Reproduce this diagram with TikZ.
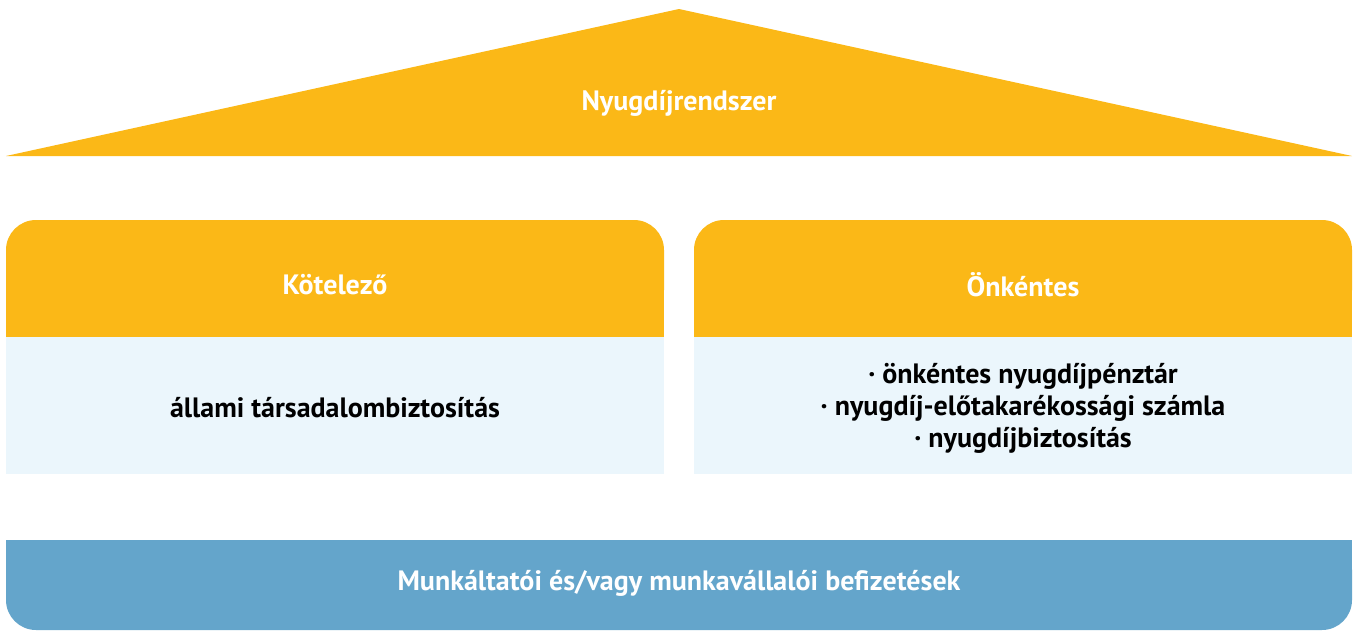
\documentclass[tikz,border=0pt]{standalone}
\usepackage{fontspec}
\setmainfont{PT Sans}
\definecolor{amber}{HTML}{FBB817}
\definecolor{paleblue}{HTML}{EBF6FC}
\definecolor{steelblue}{HTML}{64A5CB}
\begin{document}
\begin{tikzpicture}[x=1pt,y=-1pt,
  lbl/.style={font=\fontsize{28}{32}\selectfont\bfseries, align=center, inner sep=0pt},
  whitelbl/.style={lbl, text=white},
  blacklbl/.style={lbl, text=black}]
\useasboundingbox (0,0) rectangle (1358,630);
% roof
\fill[amber] (6,156) -- (679,9) -- (1352,156) -- cycle;
% left column
\fill[amber, rounded corners=30pt] (6,220) rectangle (664,320);
\fill[amber] (6,270) rectangle (664,337);
\fill[paleblue] (6,337) rectangle (664,474);
% right column
\fill[amber, rounded corners=30pt] (694,220) rectangle (1352,320);
\fill[amber] (694,270) rectangle (1352,337);
\fill[paleblue] (694,337) rectangle (1352,474);
% base
\fill[steelblue, rounded corners=30pt] (6,540) rectangle (1352,630);
\fill[steelblue] (6,540) rectangle (1352,590);
% labels
\node[whitelbl] (roof) at (679,103) {Nyugdíjrendszer};
\node[whitelbl] (mand) at (335,285) {Kötelező};
\node[whitelbl] (vol) at (1023,285) {Önkéntes};
\node[blacklbl] (state) at (335,408) {állami társadalombiztosítás};
\node[blacklbl] (vollist) at (1023,408) {· önkéntes nyugdíjpénztár\\· nyugdíj-előtakarékossági számla\\· nyugdíjbiztosítás};
\node[whitelbl] (base) at (679,583) {Munkáltatói és/vagy munkavállalói befizetések};
\end{tikzpicture}
\end{document}
